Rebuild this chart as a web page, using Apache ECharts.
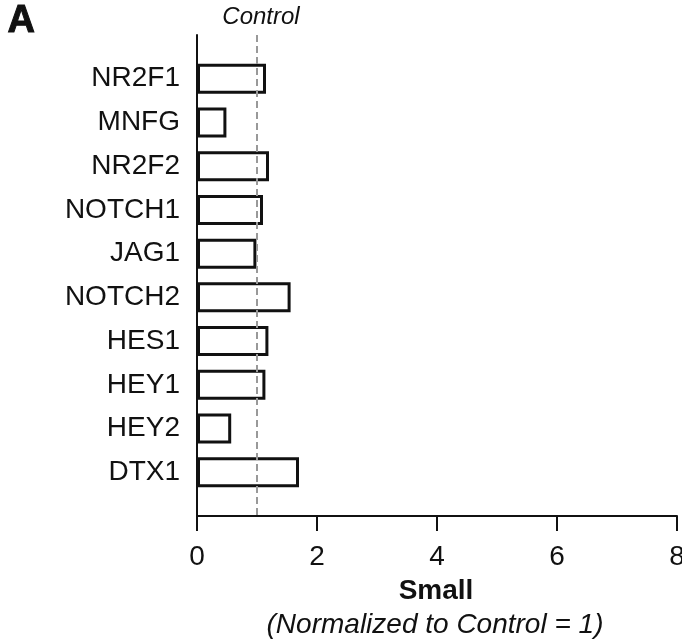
<!DOCTYPE html>
<html>
<head>
<meta charset="utf-8">
<script src="https://cdn.jsdelivr.net/npm/echarts@6/dist/echarts.min.js"></script>
<style>
  html, body { margin: 0; padding: 0; background: #fff; }
  #chart { width: 682px; height: 640px; }
</style>
</head>
<body>
<div id="chart"></div>
<script>
// Gene names, top to bottom; blank slots pad the axis ends
const genes = ['', 'NR2F1', 'MNFG', 'NR2F2', 'NOTCH1', 'JAG1', 'NOTCH2', 'HES1', 'HEY1', 'HEY2', 'DTX1', ''];
// Expression in small vessels, normalized to control = 1
const smallValues = ['-', 1.15, 0.49, 1.20, 1.10, 0.99, 1.56, 1.19, 1.14, 0.57, 1.70, '-'];
const xTicks = [0, 2, 4, 6, 8];
const controlLevel = 1;

const FONT = '"Liberation Sans", Arial, Helvetica, sans-serif';
const chart = echarts.init(document.getElementById('chart'), null, { renderer: 'canvas' });

chart.setOption({
  animation: false,
  backgroundColor: '#ffffff',
  grid: { left: 197, right: 5, top: 35, bottom: 124, containLabel: false, outerBoundsMode: 'none' },
  xAxis: {
    type: 'value',
    min: xTicks[0],
    max: xTicks[xTicks.length - 1],
    interval: xTicks[1] - xTicks[0],
    axisLine: { show: true, lineStyle: { color: '#111', width: 2 } },
    axisTick: { show: true, length: 15, lineStyle: { color: '#111', width: 2 } },
    axisLabel: { color: '#111', fontSize: 28, fontFamily: FONT, margin: 27, hideOverlap: false },
    splitLine: { show: false }
  },
  yAxis: {
    type: 'category',
    data: genes,
    inverse: true,
    boundaryGap: false,
    axisLine: { show: true, lineStyle: { color: '#111', width: 2 } },
    axisTick: { show: false },
    axisLabel: { color: '#111', fontSize: 28, fontFamily: FONT, margin: 17, interval: 0 },
    splitLine: { show: false }
  },
  series: [{
    type: 'bar',
    data: smallValues,
    barWidth: 30,
    itemStyle: { color: '#ffffff', borderColor: '#111', borderWidth: 3 },
    markLine: {
      silent: true,
      symbol: 'none',
      lineStyle: { color: '#999', width: 2, type: [7, 4] },
      label: {
        show: true,
        position: 'start',
        formatter: 'Control',
        color: '#111',
        fontSize: 24,
        fontStyle: 'italic',
        fontFamily: FONT,
        distance: 6,
        offset: [4, 0]
      },
      data: [{ xAxis: controlLevel }]
    }
  }],
  graphic: [
    {
      type: 'text', left: 7, top: 2,
      style: { text: 'A', font: 'bold 38px ' + FONT, fill: '#111', stroke: '#111', lineWidth: 1 }
    },
    {
      type: 'text', x: 436, y: 591,
      style: { text: 'Small', font: 'bold 28px ' + FONT, fill: '#111', align: 'center', verticalAlign: 'middle' }
    },
    {
      type: 'text', x: 435, y: 625,
      style: { text: '(Normalized to Control = 1)', font: 'italic 28px ' + FONT, fill: '#111', align: 'center', verticalAlign: 'middle' }
    }
  ]
});
</script>
</body>
</html>
